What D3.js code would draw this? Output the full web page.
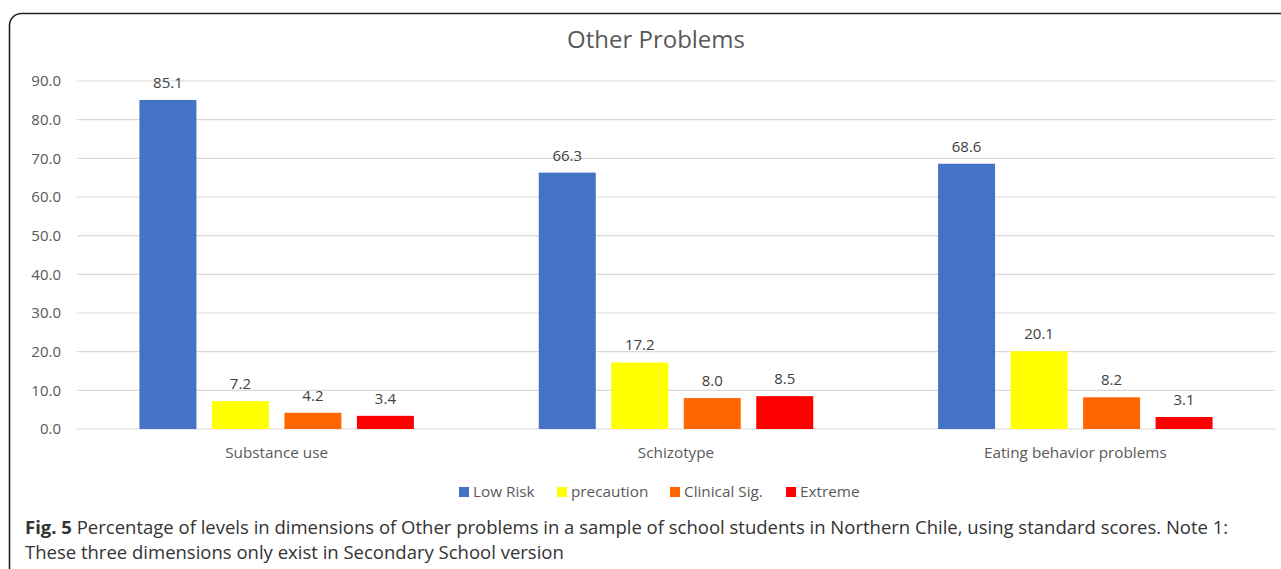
<!DOCTYPE html>
<html>
<head>
<meta charset="utf-8">
<script src="https://cdn.jsdelivr.net/npm/d3@7"></script>
<style>
  body { margin: 0; background: #fff; }
  svg text { font-family: "Open Sans", Lato, sans-serif; }
</style>
</head>
<body>
<div id="GUI"></div>
<script>
// chart values
const categories = ["Substance use", "Schizotype", "Eating behavior problems"];
const levels = ["Low Risk", "precaution", "Clinical Sig.", "Extreme"];
const lowRisk = [85.1, 66.3, 68.6];
const precaution = [7.2, 17.2, 20.1];
const clinicalSig = [4.2, 8.0, 8.2];
const extreme = [3.4, 8.5, 3.1];
const yTicks = [0, 10, 20, 30, 40, 50, 60, 70, 80, 90];
const colors = ["#4472c4", "#ffff00", "#ff6600", "#ff0000"];

const series = [lowRisk, precaution, clinicalSig, extreme];

const W = 1281, H = 569;
const svg = d3.select("#GUI").append("svg")
    .attr("width", W)
    .attr("height", H);

// outer frame, rounded, runs off the right/bottom edge
svg.append("rect")
    .attr("x", 9.5).attr("y", 13.5)
    .attr("width", 1300).attr("height", 600)
    .attr("rx", 12)
    .attr("fill", "none")
    .attr("stroke", "#222")
    .attr("stroke-width", 1.6);

const plot = {left: 77, right: 1275, top: 81, bottom: 429};

const x0 = d3.scaleBand()
    .domain(categories)
    .range([plot.left, plot.right])
    .paddingInner(0)
    .paddingOuter(0);

const x1 = d3.scaleBand()
    .domain(levels)
    .range([0, x0.bandwidth()])
    .paddingInner(0.214)
    .paddingOuter(0.861);

const y = d3.scaleLinear()
    .domain([0, 90])
    .range([plot.bottom, plot.top]);

// gridlines
svg.append("g").selectAll("line")
    .data(yTicks)
    .enter().append("line")
    .attr("x1", plot.left).attr("x2", plot.right)
    .attr("y1", d => y(d)).attr("y2", d => y(d))
    .attr("stroke", "#d9d9d9")
    .attr("stroke-width", 1.2);

// y labels
svg.append("g").selectAll("text")
    .data(yTicks)
    .enter().append("text")
    .attr("x", 61)
    .attr("y", d => y(d))
    .attr("dy", "0.35em")
    .attr("text-anchor", "end")
    .attr("font-size", 15)
    .attr("fill", "#595959")
    .text(d => d.toFixed(1));

// title
svg.append("text")
    .attr("x", 656)
    .attr("y", 48)
    .attr("text-anchor", "middle")
    .attr("font-size", 24)
    .attr("fill", "#595959")
    .text("Other Problems");

// bars
const groups = svg.append("g").selectAll("g")
    .data(categories)
    .enter().append("g")
    .attr("transform", d => "translate(" + x0(d) + ",0)");

groups.selectAll("rect")
    .data((c, i) => levels.map((l, j) => ({level: l, value: series[j][i], color: colors[j]})))
    .enter().append("rect")
    .attr("x", d => x1(d.level))
    .attr("width", x1.bandwidth())
    .attr("y", d => y(d.value))
    .attr("height", d => y(0) - y(d.value))
    .attr("fill", d => d.color);

groups.selectAll("text")
    .data((c, i) => levels.map((l, j) => ({level: l, value: series[j][i]})))
    .enter().append("text")
    .attr("x", d => x1(d.level) + x1.bandwidth() / 2)
    .attr("y", d => y(d.value) - 12)
    .attr("text-anchor", "middle")
    .attr("font-size", 15)
    .attr("fill", "#404040")
    .text(d => d.value.toFixed(1));

// category labels
svg.append("g").selectAll("text")
    .data(categories)
    .enter().append("text")
    .attr("x", d => x0(d) + x0.bandwidth() / 2)
    .attr("y", 458)
    .attr("text-anchor", "middle")
    .attr("font-size", 15.3)
    .attr("fill", "#595959")
    .text(d => d);

// legend
const legendX = [459, 557, 670, 786];
const legend = svg.append("g").selectAll("g")
    .data(levels)
    .enter().append("g")
    .attr("transform", (d, i) => "translate(" + legendX[i] + ",487)");

legend.append("rect")
    .attr("width", 10).attr("height", 10)
    .attr("fill", (d, i) => colors[i]);

legend.append("text")
    .attr("x", 14).attr("y", 5)
    .attr("dy", "0.35em")
    .attr("font-size", 15.3)
    .attr("fill", "#595959")
    .text(d => d);

// caption
const cap = svg.append("text")
    .attr("x", 25).attr("y", 534)
    .attr("font-size", 18.5)
    .attr("fill", "#333");
cap.append("tspan").attr("font-weight", "bold").text("Fig. 5");
cap.append("tspan").text(" Percentage of levels in dimensions of Other problems in a sample of school students in Northern Chile, using standard scores. Note 1:");

svg.append("text")
    .attr("x", 25).attr("y", 559)
    .attr("font-size", 18.5)
    .attr("fill", "#333")
    .text("These three dimensions only exist in Secondary School version");
</script>
</body>
</html>
